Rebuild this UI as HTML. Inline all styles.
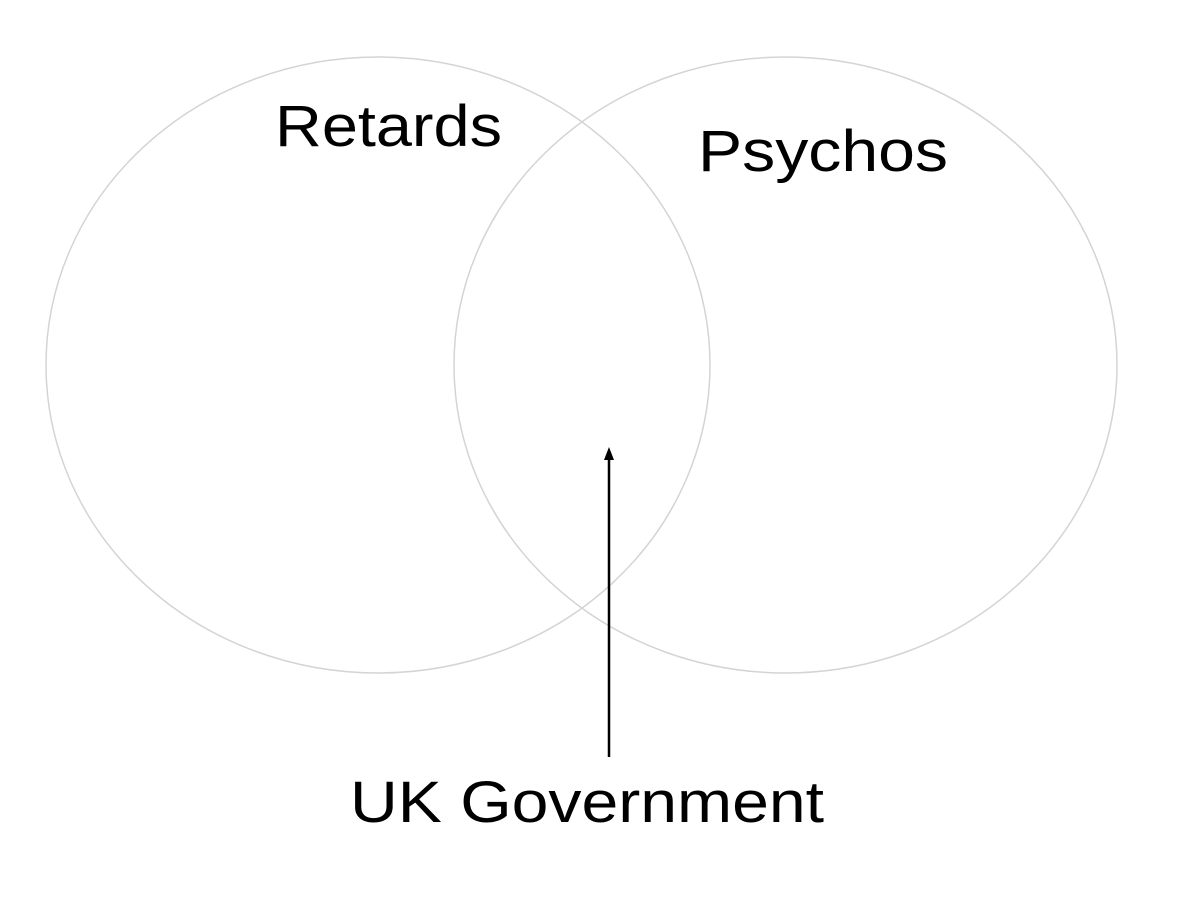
<!DOCTYPE html>
<html><head><meta charset="utf-8"><style>
html,body{margin:0;padding:0;background:#fff;width:1200px;height:900px;overflow:hidden}
</style></head><body>
<svg width="1200" height="900" xmlns="http://www.w3.org/2000/svg">
<ellipse cx="378" cy="365" rx="332" ry="308" fill="none" stroke="#d4d4d4" stroke-width="1.5"/>
<ellipse cx="785.5" cy="365" rx="331.5" ry="308" fill="none" stroke="#d4d4d4" stroke-width="1.5"/>
<g font-family="'Liberation Sans', Helvetica, Arial, sans-serif" font-size="58" fill="#000">
<text x="275" y="146" textLength="227" lengthAdjust="spacingAndGlyphs">Retards</text>
<text x="698" y="171" textLength="250" lengthAdjust="spacingAndGlyphs">Psychos</text>
<text x="350" y="822" textLength="474" lengthAdjust="spacingAndGlyphs">UK Government</text>
</g>
<line x1="609" y1="757" x2="609" y2="458" stroke="#000" stroke-width="2.5"/>
<polygon points="609,447 604,460 614,460" fill="#000"/>
</svg>
</body></html>
